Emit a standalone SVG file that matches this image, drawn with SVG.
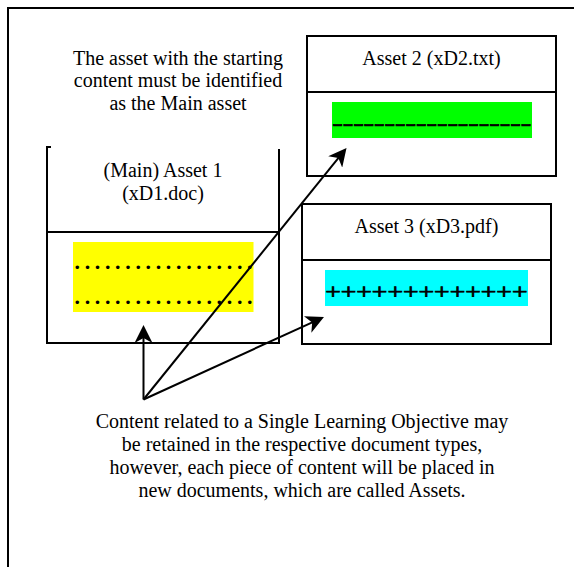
<svg xmlns="http://www.w3.org/2000/svg" width="574" height="567" viewBox="0 0 574 567">
<style>
text{font-family:"Liberation Serif","Times New Roman",serif;font-size:20px;fill:#000}
.c{text-anchor:middle}
.box{fill:none;stroke:#000;stroke-width:2}
.conn{fill:none;stroke:#000;stroke-width:2}
.dots{font-size:30px;letter-spacing:2.65px}
.bold{stroke:#000;stroke-width:0.7}
</style>
<defs>
<marker id="arr" viewBox="-18 -9 18 18" refX="-8" refY="0" markerWidth="18" markerHeight="18" markerUnits="userSpaceOnUse" orient="auto">
<path d="M0,0 L-18,-9 L-13,0 L-18,9 Z" fill="#000"/>
</marker>
</defs>
<rect width="574" height="567" fill="#fff"/>
<g id="frame"><path class="box" d="M8,567 V8 H574" stroke-width="2.5"/></g>
<g id="note-main">
<text class="c" x="178" y="65">The asset with the starting</text>
<text class="c" x="178" y="87">content must be identified</text>
<text class="c" x="178" y="109.5">as the Main asset</text>
</g>
<g id="asset1">
<rect x="73" y="242" width="180.5" height="70" fill="#ffff00"/>
<text class="dots" x="73.5" y="268.8">..................</text>
<text class="dots" x="73.5" y="303.8">..................</text>
<path class="box" d="M51,147 H47 V343 H279 V149"/>
<path class="box" d="M47,232 H279"/>
<text class="c" x="163" y="177">(Main) Asset 1</text>
<text class="c" x="163" y="200">(xD1.doc)</text>
</g>
<g id="asset2">
<rect x="307" y="36" width="249" height="140" class="box"/>
<path class="box" d="M307,92 H556"/>
<text class="c" x="431.5" y="65">Asset 2 (xD2.txt)</text>
<rect x="332" y="102" width="200" height="36" fill="#00ff00"/>
<text class="bold" x="332.2" y="129.5" font-size="31" textLength="199" lengthAdjust="spacingAndGlyphs">-------------------</text>
</g>
<g id="asset3">
<rect x="302" y="204" width="249" height="140" class="box"/>
<path class="box" d="M302,260 H551"/>
<text class="c" x="426.5" y="233">Asset 3 (xD3.pdf)</text>
<rect x="325" y="270" width="203" height="36" fill="#00ffff"/>
<text class="bold" x="325.2" y="298.5" font-size="33" textLength="202.3" lengthAdjust="spacingAndGlyphs">+++++++++++++</text>
</g>
<g id="connectors">
<line class="conn" x1="143.5" y1="399.5" x2="143.5" y2="333" marker-end="url(#arr)"/>
<line class="conn" x1="143.5" y1="399.5" x2="316.7" y2="320.3" marker-end="url(#arr)"/>
<line class="conn" x1="143.5" y1="399.5" x2="341.5" y2="154.2" marker-end="url(#arr)"/>
</g>
<g id="note-content">
<text class="c" x="302" y="428">Content related to a Single Learning Objective may</text>
<text class="c" x="302" y="451">be retained in the respective document types,</text>
<text class="c" x="302" y="474">however, each piece of content will be placed in</text>
<text class="c" x="302" y="497">new documents, which are called Assets.</text>
</g>
</svg>
